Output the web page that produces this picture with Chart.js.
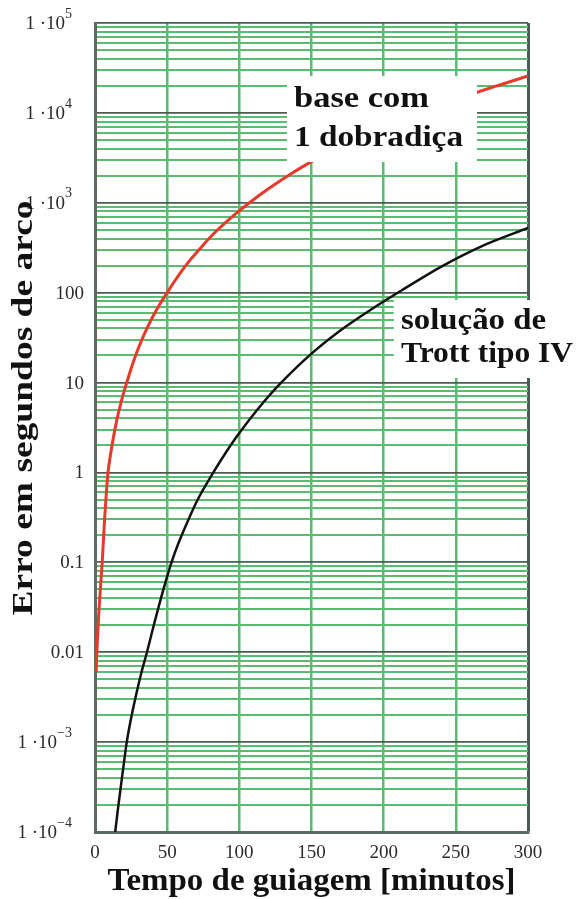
<!DOCTYPE html>
<html>
<head>
<meta charset="utf-8">
<script src="https://cdn.jsdelivr.net/npm/chart.js@4"></script>
<style>
  body { margin: 0; background: #fff; }
  canvas { display: block; }
</style>
</head>
<body>
<canvas id="chart" width="580" height="899"></canvas>
<script>
// values
const redTime = [0.8, 1.5, 2.5, 3.5, 5, 6, 7, 8, 9, 10.5, 12, 14, 16, 19, 22, 26, 30, 35, 40, 45, 50, 55, 60, 67, 75, 82, 90, 98, 107, 116, 125, 137, 150, 175, 200, 225, 250, 263, 275, 300];
const redError = [0.006, 0.012, 0.025, 0.045, 0.1, 0.2, 0.37, 0.63, 1, 1.49, 2.1, 3.13, 4.42, 6.9, 10, 16, 24, 37, 54, 75, 100, 133, 174, 242, 340, 449, 593, 766, 1000, 1285, 1620, 2160, 2870, 4650, 7050, 10200, 14150, 16600, 19200, 25700];

const blackTime = [12, 14, 16, 18, 20, 22, 25, 28, 32, 36, 40, 44, 48, 53, 58, 65, 72, 82, 91, 100, 115, 129, 150, 170, 190, 212, 240, 270, 300];
const blackError = [0.000054, 0.0001, 0.000186, 0.00033, 0.00058, 0.001, 0.00184, 0.0031, 0.0058, 0.01, 0.018, 0.0316, 0.054, 0.1, 0.166, 0.306, 0.53, 1, 1.7, 2.75, 5.6, 10, 21, 38, 63, 105, 195, 340, 525];

const xTickValues = [0, 50, 100, 150, 200, 250, 300];
const yDecades = [1e-4, 1e-3, 0.01, 0.1, 1, 10, 100, 1e3, 1e4, 1e5];
const yTickBase = ['1 ·10', '1 ·10', '0.01', '0.1', '1', '10', '100', '1 ·10', '1 ·10', '1 ·10'];
const yTickExp = ['−4', '−3', '', '', '', '', '', '3', '4', '5'];

const redLabel = ['base com', '1 dobradiça'];
const blackLabel = ['solução de', 'Trott tipo IV'];
const xTitle = 'Tempo de guiagem [minutos]';
const yTitle = 'Erro em segundos de arco';

const serif = '"Liberation Serif", "Times New Roman", serif';
const minorGreen = '#58bd70';
const majorDark = '#4d5c52';

function isDecade(v) {
    const l = Math.log10(v);
    return Math.abs(l - Math.round(l)) < 1e-9;
}

// draw text squeezed/stretched to a given width
function fitText(ctx, text, x, y, width, align) {
    const w = ctx.measureText(text).width;
    const s = width / w;
    ctx.save();
    ctx.translate(x, y);
    ctx.scale(s, 1);
    ctx.textAlign = align || 'left';
    ctx.fillText(text, 0, 0);
    ctx.restore();
}

const labelsPlugin = {
    id: 'labelsPlugin',
    afterDraw(chart) {
        const ctx = chart.ctx;
        const yScale = chart.scales.y;
        const xScale = chart.scales.x;
        const area = chart.chartArea;

        // y tick labels with superscripts
        ctx.save();
        ctx.fillStyle = '#2b2b2b';
        ctx.textBaseline = 'middle';
        yDecades.forEach((v, i) => {
            const py = yScale.getPixelForValue(v);
            if (yTickExp[i]) {
                ctx.font = '14px ' + serif;
                const ew = ctx.measureText(yTickExp[i]).width;
                ctx.textAlign = 'right';
                ctx.fillText(yTickExp[i], 72, py - 9);
                ctx.font = '19px ' + serif;
                ctx.fillText(yTickBase[i], 72 - ew, py + 1);
            } else {
                ctx.font = '19px ' + serif;
                ctx.textAlign = 'right';
                ctx.fillText(yTickBase[i], 84, py + 1);
            }
        });
        ctx.restore();

        // axis titles
        ctx.save();
        ctx.fillStyle = '#111';
        ctx.font = 'bold 31px ' + serif;
        ctx.textBaseline = 'alphabetic';
        fitText(ctx, xTitle, (area.left + area.right) / 2, 890, 408, 'center');
        ctx.translate(32, 408);
        ctx.rotate(-Math.PI / 2);
        ctx.font = 'bold 29px ' + serif;
        fitText(ctx, yTitle, 0, 0, 415, 'center');
        ctx.restore();

        // curve labels on white boxes
        ctx.save();
        ctx.fillStyle = '#fff';
        ctx.fillRect(xScale.getPixelForValue(133), 76, 190, 86);
        ctx.fillRect(xScale.getPixelForValue(207), 300, 190, 78);
        ctx.fillStyle = '#111';
        ctx.font = 'bold 30px ' + serif;
        fitText(ctx, redLabel[0], 294, 107, 135);
        fitText(ctx, redLabel[1], 294, 146, 169);
        fitText(ctx, blackLabel[0], 401, 329, 145);
        fitText(ctx, blackLabel[1], 401, 362, 172);
        ctx.restore();
    }
};

const ctx = document.getElementById('chart').getContext('2d');
new Chart(ctx, {
    type: 'line',
    data: {
        datasets: [
            {
                label: 'base com 1 dobradiça',
                data: redTime.map((t, i) => ({ x: t, y: redError[i] })),
                borderColor: '#e8392b',
                borderWidth: 3,
                borderJoinStyle: 'round',
                pointRadius: 0,
                tension: 0.3
            },
            {
                label: 'solução de Trott tipo IV',
                data: blackTime.map((t, i) => ({ x: t, y: blackError[i] })),
                borderColor: '#111',
                borderWidth: 2.5,
                borderJoinStyle: 'round',
                pointRadius: 0,
                tension: 0.3
            }
        ]
    },
    options: {
        responsive: false,
        animation: false,
        layout: { padding: { top: 23, right: 52, left: 0, bottom: 0 } },
        plugins: {
            legend: { display: false },
            tooltip: { enabled: false }
        },
        scales: {
            x: {
                type: 'linear',
                min: 0,
                max: 300,
                afterBuildTicks: scale => { scale.ticks = xTickValues.map(v => ({ value: v })); },
                afterFit: scale => { scale.height = 67; },
                grid: {
                    drawTicks: false,
                    color: c => (c.tick && c.tick.value === 300) ? majorDark : minorGreen,
                    lineWidth: c => (c.tick && c.tick.value === 300) ? 3 : 2.5
                },
                border: { display: true, color: '#5d6b62', width: 3 },
                ticks: {
                    maxRotation: 0,
                    autoSkip: false,
                    padding: 10,
                    color: '#2b2b2b',
                    font: { family: serif, size: 19 }
                }
            },
            y: {
                type: 'logarithmic',
                min: 1e-4,
                max: 1e5,
                afterBuildTicks: scale => {
                    const ticks = [];
                    for (let e = -4; e <= 4; e++) {
                        for (let m = 1; m <= 9; m++) ticks.push({ value: m * Math.pow(10, e) });
                    }
                    ticks.push({ value: 1e5 });
                    scale.ticks = ticks;
                },
                afterFit: scale => { scale.width = 95; },
                grid: {
                    drawTicks: false,
                    color: c => (c.tick && isDecade(c.tick.value)) ? majorDark : minorGreen,
                    lineWidth: c => (c.tick && isDecade(c.tick.value)) ? 1.8 : 2
                },
                border: { display: true, color: '#5d6b62', width: 3 },
                ticks: { display: false }
            }
        }
    },
    plugins: [labelsPlugin]
});
</script>
</body>
</html>
